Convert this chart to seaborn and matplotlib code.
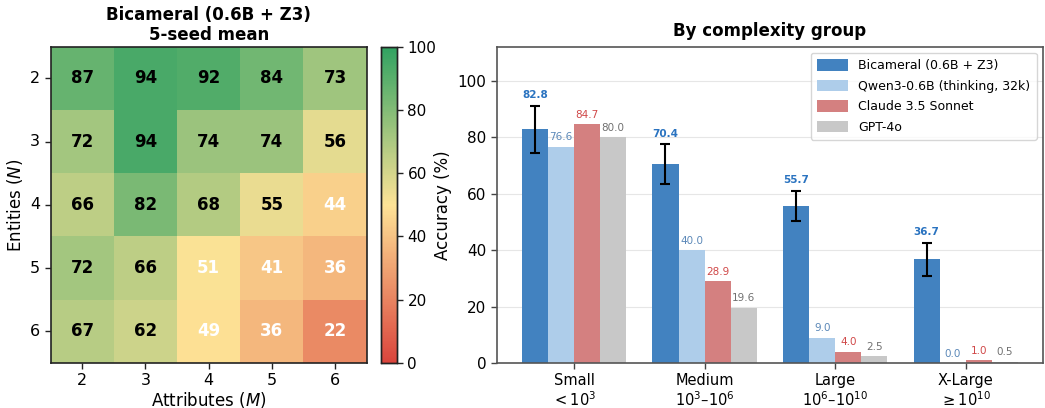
import numpy as np
import pandas as pd
import matplotlib
matplotlib.use("Agg")
import matplotlib.pyplot as plt
from matplotlib.colors import LinearSegmentedColormap
import seaborn as sns

# ---- data ----
attributes = [2, 3, 4, 5, 6]          # M
entities = [2, 3, 4, 5, 6]            # N
accuracy_grid = [
    [87, 94, 92, 84, 73],
    [72, 94, 74, 74, 56],
    [66, 82, 68, 55, 44],
    [72, 66, 51, 41, 36],
    [67, 62, 49, 36, 22],
]

groups = ["Small", "Medium", "Large", "X-Large"]
group_ranges = [r"$<10^3$", r"$10^3$–$10^6$", r"$10^6$–$10^{10}$", r"$\geq 10^{10}$"]
models = ["Bicameral (0.6B + Z3)", "Qwen3-0.6B (thinking, 32k)",
          "Claude 3.5 Sonnet", "GPT-4o"]
bicameral = [82.8, 70.4, 55.7, 36.7]
bicameral_err = [8.3, 7.0, 5.3, 5.9]
qwen = [76.6, 40.0, 9.0, 0.0]
claude = [84.7, 28.9, 4.0, 1.0]
gpt4o = [80.0, 19.6, 2.5, 0.5]

bar_colors = ["#4282c0", "#aecdea", "#d48080", "#c8c8c8"]
label_colors = ["#2a73c0", "#5b88b8", "#d04848", "#707070"]

sns.set_theme(style="white")
plt.rcParams["font.family"] = ["DejaVu Sans"]
plt.rcParams.update({
    "text.color": "black",
    "axes.labelcolor": "black",
    "xtick.color": "black",
    "ytick.color": "black",
    "axes.titlecolor": "black",
})

fig = plt.figure(figsize=(10.45, 4.08), dpi=100)

# ---- heatmap ----
ax_h = fig.add_axes([0.0485, 0.1103, 0.3024, 0.7752])
ax_cb = fig.add_axes([0.3646, 0.1103, 0.0153, 0.7752])

grid_df = pd.DataFrame(accuracy_grid, index=entities, columns=attributes)
cmap = LinearSegmentedColormap.from_list("acc", ["#d73027", "#fee08b", "#1a9850"])
sns.heatmap(grid_df, ax=ax_h, cbar_ax=ax_cb, cmap=cmap, vmin=0, vmax=100,
            alpha=0.9, square=False, linewidths=0)
for i in range(len(entities)):
    for j in range(len(attributes)):
        v = accuracy_grid[i][j]
        ax_h.text(j + 0.5, i + 0.5, f"{v}", ha="center", va="center",
                  fontsize=12, fontweight="bold",
                  color="white" if v < 53 else "black")
for s in ax_h.spines.values():
    s.set_visible(True)
    s.set_color("#222222")
    s.set_linewidth(1.2)
ax_h.tick_params(axis="both", which="major", length=4, width=1, labelsize=11.5,
                 bottom=True, left=True, color="#222222")
ax_h.set_yticklabels(ax_h.get_yticklabels(), rotation=0)
ax_h.set_xlabel("Attributes ($M$)", fontsize=12, labelpad=1)
ax_h.set_ylabel("Entities ($N$)", fontsize=12, labelpad=4)
ax_h.set_title("Bicameral (0.6B + Z3)\n5-seed mean", fontsize=12,
               fontweight="bold", linespacing=1.15, pad=5)

ax_cb.set_yticks([0, 20, 40, 60, 80, 100])
ax_cb.tick_params(labelsize=11, length=4, width=1, right=True, color="#222222")
for s in ax_cb.spines.values():
    s.set_visible(True)
    s.set_color("#222222")
    s.set_linewidth(1)

# ---- grouped bars ----
ax_b = fig.add_axes([0.4756, 0.1103, 0.5224, 0.7752])

long_df = pd.DataFrame({
    "group": groups * 4,
    "model": sum([[m] * len(groups) for m in models], []),
    "acc": bicameral + qwen + claude + gpt4o,
})
sns.barplot(data=long_df, x="group", y="acc", hue="model", order=groups,
            hue_order=models, palette=bar_colors, ax=ax_b, errorbar=None,
            width=0.8, saturation=1, linewidth=0)

series = [bicameral, qwen, claude, gpt4o]
patches = ax_b.patches[: len(groups) * len(models)]
for k, model_vals in enumerate(series):
    for g in range(len(groups)):
        p = patches[k * len(groups) + g]
        cx = p.get_x() + p.get_width() / 2
        v = model_vals[g]
        if k == 0:
            ax_b.errorbar(cx, v, yerr=bicameral_err[g], fmt="none",
                          ecolor="black", elinewidth=1.5, capsize=3.5,
                          capthick=1.5, zorder=4)
            ax_b.text(cx, v + bicameral_err[g] + 2.0, f"{v:.1f}", ha="center",
                      va="bottom", fontsize=7.5, fontweight="bold",
                      color=label_colors[k])
        else:
            ax_b.text(cx, v + 1.5, f"{v:.1f}", ha="center", va="bottom",
                      fontsize=7.5, color=label_colors[k])

ax_b.set_ylim(0, 112)
ax_b.set_yticks([0, 20, 40, 60, 80, 100])
ax_b.set_xticks(range(len(groups)))
ax_b.set_xticklabels([f"{g}\n{r}" for g, r in zip(groups, group_ranges)],
                     fontsize=10.5, linespacing=1.1)
ax_b.tick_params(axis="y", labelsize=11, length=4, width=1, left=True,
                 color="#444444")
ax_b.tick_params(axis="x", length=4, width=1, bottom=True, color="#444444")
ax_b.yaxis.grid(True, color="#e6e6e6", linewidth=0.8)
ax_b.set_axisbelow(True)
ax_b.set_xlabel("")
ax_b.set_ylabel("Accuracy (%)", fontsize=12, labelpad=4)
ax_b.set_title("By complexity group", fontsize=12, fontweight="bold", pad=8)
for s in ax_b.spines.values():
    s.set_visible(True)
    s.set_color("#555555")
    s.set_linewidth(1.2)
leg = ax_b.legend(loc="upper right", fontsize=9, frameon=True,
                  handlelength=2.5, handleheight=1.0, borderpad=0.5,
                  labelspacing=0.6)
leg.get_frame().set_edgecolor("#cccccc")

fig.savefig("out.png", dpi=100)
